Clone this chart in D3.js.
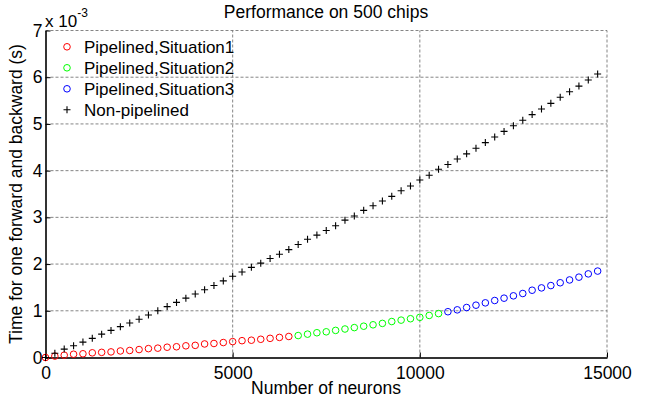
<!DOCTYPE html>
<html>
<head>
<meta charset="utf-8">
<script src="https://cdn.jsdelivr.net/npm/d3@7"></script>
<style>
  body { margin: 0; background: #fff; }
  text { font-family: "Liberation Sans", Arial, sans-serif; fill: #000; }
</style>
</head>
<body>
<div id="chart"></div>
<script>
// values in units of 1e-3 s, neurons step 250
const step = 250;
const situation1 = [0.00, 0.03, 0.05, 0.07, 0.08, 0.10, 0.11, 0.12, 0.14, 0.15,
  0.17, 0.19, 0.20, 0.22, 0.23, 0.25, 0.26, 0.29, 0.30, 0.32,
  0.34, 0.36, 0.37, 0.39, 0.41, 0.43, 0.45];
const situation2 = [0.47, 0.50, 0.53, 0.55, 0.58, 0.61, 0.64, 0.67, 0.70, 0.73,
  0.77, 0.80, 0.83, 0.86, 0.90, 0.94];
const situation3 = [0.98, 1.02, 1.07, 1.12, 1.17, 1.22, 1.27, 1.32, 1.37, 1.44,
  1.49, 1.54, 1.60, 1.66, 1.72, 1.79, 1.85];
const nonPipelined = [0.00, 0.09, 0.18, 0.25, 0.33, 0.41, 0.50, 0.58, 0.66, 0.74,
  0.82, 0.91, 1.00, 1.09, 1.18, 1.27, 1.36, 1.45, 1.54, 1.64,
  1.74, 1.83, 1.93, 2.02, 2.12, 2.21, 2.31, 2.42, 2.53, 2.62,
  2.72, 2.82, 2.94, 3.03, 3.15, 3.25, 3.35, 3.45, 3.57, 3.67,
  3.80, 3.90, 4.03, 4.13, 4.25, 4.36, 4.48, 4.60, 4.72, 4.84,
  4.96, 5.08, 5.20, 5.32, 5.44, 5.57, 5.69, 5.81, 5.94, 6.07];
const xTicks = [0, 5000, 10000, 15000];
const yTicks = [0, 1, 2, 3, 4, 5, 6, 7];

const series = [
  { name: 'Pipelined,Situation1', color: '#ff0000', shape: 'circle', start: 0, values: situation1 },
  { name: 'Pipelined,Situation2', color: '#00ff00', shape: 'circle', start: situation1.length, values: situation2 },
  { name: 'Pipelined,Situation3', color: '#0000ff', shape: 'circle', start: situation1.length + situation2.length, values: situation3 },
  { name: 'Non-pipelined', color: '#000000', shape: 'plus', start: 0, values: nonPipelined },
];

const width = 651, height = 400;
const margin = { left: 45.5, right: 44, top: 30.5, bottom: 42.5 };

const svg = d3.select('#chart').append('svg').attr('width', width).attr('height', height);

const x = d3.scaleLinear().domain([0, 15000]).range([margin.left, width - margin.right]);
const y = d3.scaleLinear().domain([0, 7]).range([height - margin.bottom, margin.top]);

// grid
const grid = svg.append('g').attr('stroke', '#666').attr('stroke-width', 0.8).attr('stroke-dasharray', '3,2');
grid.selectAll('line.gx').data(xTicks.slice(1)).enter().append('line')
  .attr('x1', (d) => x(d)).attr('x2', (d) => x(d))
  .attr('y1', y(0)).attr('y2', y(7));
grid.selectAll('line.gy').data(yTicks.slice(1)).enter().append('line')
  .attr('x1', x(0)).attr('x2', x(15000))
  .attr('y1', (d) => y(d)).attr('y2', (d) => y(d));

// axes
const xAxis = svg.append('g').attr('transform', `translate(0,${y(0)})`)
  .call(d3.axisBottom(x).tickValues(xTicks).tickSizeInner(-5).tickSizeOuter(0).tickPadding(9).tickFormat(d3.format('d')));
const yAxis = svg.append('g').attr('transform', `translate(${x(0)},0)`)
  .call(d3.axisLeft(y).tickValues(yTicks).tickSizeInner(-5).tickSizeOuter(0).tickPadding(3).tickFormat(d3.format('d')));
[xAxis, yAxis].forEach((a) => {
  a.select('.domain').attr('stroke', '#333').attr('stroke-width', 2);
  a.selectAll('.tick line').attr('stroke', '#000');
  a.selectAll('.tick text').attr('font-size', 17.5).attr('fill', '#000')
    .style('font-family', '"Liberation Sans", Arial, sans-serif');
});

// markers
function drawMarks(g, s, pts) {
  if (s.shape === 'circle') {
    g.selectAll('circle').data(pts).enter().append('circle')
      .attr('cx', (d) => d[0]).attr('cy', (d) => d[1]).attr('r', 3.3)
      .attr('fill', 'none').attr('stroke', s.color).attr('stroke-width', 1);
  } else {
    g.selectAll('path').data(pts).enter().append('path')
      .attr('d', (d) => `M${d[0] - 3.5},${d[1]}h7M${d[0]},${d[1] - 3.5}v7`)
      .attr('stroke', s.color).attr('stroke-width', 1.1).attr('fill', 'none');
  }
}

series.forEach((s) => {
  const pts = s.values.map((v, i) => [x((s.start + i) * step), y(v)]);
  drawMarks(svg.append('g'), s, pts);
});

// legend
const legend = svg.append('g');
series.forEach((s, i) => {
  const ly = 46.8 + i * 21;
  drawMarks(legend.append('g'), s, [[67, ly]]);
  legend.append('text').attr('x', 84).attr('y', ly + 6.3).attr('font-size', 17).text(s.name);
});

// titles
svg.append('text').attr('x', 326).attr('y', 17.5).attr('text-anchor', 'middle')
  .attr('font-size', 17.5).text('Performance on 500 chips');
svg.append('text').attr('x', 326).attr('y', 394).attr('text-anchor', 'middle')
  .attr('font-size', 17.5).text('Number of neurons');
svg.append('text').attr('transform', `translate(22,${(y(0) + y(7)) / 2}) rotate(-90)`)
  .attr('text-anchor', 'middle').attr('font-size', 17.5).text('Time for one forward and backward (s)');

const exp = svg.append('text').attr('x', 45).attr('y', 26.5).attr('font-size', 17);
exp.append('tspan').text('x 10');
exp.append('tspan').attr('dy', -10).attr('font-size', 12).text('-3');
</script>
</body>
</html>
